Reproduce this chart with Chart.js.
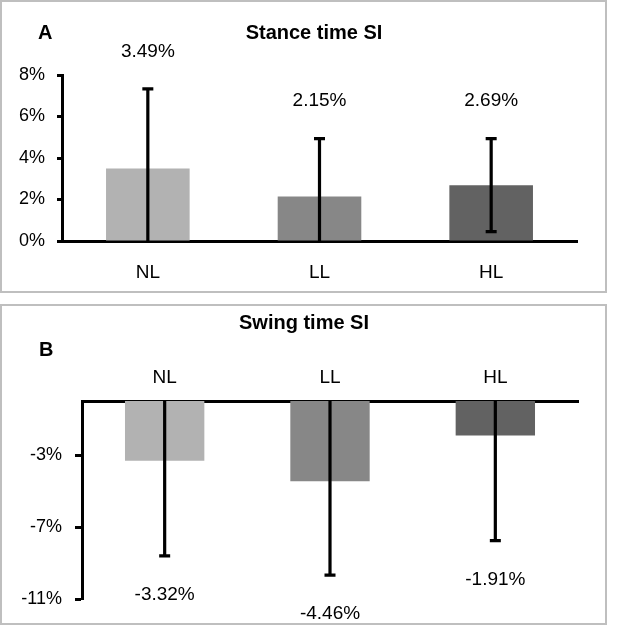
<!DOCTYPE html>
<html><head><meta charset="utf-8">
<script src="https://cdn.jsdelivr.net/npm/chart.js@4.4.1/dist/chart.umd.min.js"></script>
<style>
html,body{margin:0;padding:0;background:#fff;}
.panel{position:absolute;left:0;box-sizing:border-box;width:607px;border:2px solid #bfbfbf;background:#fff;}
#pa{top:0;height:293px;}
#pb{top:304px;height:321px;}
.wrap{position:absolute;left:0;top:0;width:603px;}
.lbl{position:absolute;font-family:"Liberation Sans",Arial,sans-serif;font-weight:bold;color:#000;white-space:nowrap;line-height:1;font-size:20px;}
</style></head>
<body>
<div class="panel" id="pa">
  <div class="wrap" style="height:289px"><canvas id="ca"></canvas></div>
  <div class="lbl" style="left:36px;top:20px;">A</div>
  <div class="lbl" style="left:0;width:624px;text-align:center;top:20px;">Stance time SI</div>
</div>
<div class="panel" id="pb">
  <div class="wrap" style="height:317px"><canvas id="cb"></canvas></div>
  <div class="lbl" style="left:37px;top:33px;">B</div>
  <div class="lbl" style="left:0;width:604px;text-align:center;top:6px;">Swing time SI</div>
</div>
<script>
const categories = ['NL', 'LL', 'HL'];
const stanceMean = [3.49, 2.15, 2.69];
const stanceSD = [3.84, 2.78, 2.24];
const swingMean = [-3.32, -4.46, -1.91];
const swingSD = [5.28, 5.21, 5.85];
const stanceTicks = [0, 2, 4, 6, 8];
const swingTicks = [-11, -7, -3];
const barColors = ['#b2b2b2', '#878787', '#626262'];

const FONT = '"Liberation Sans", Arial, sans-serif';
Chart.defaults.font.family = FONT;
Chart.defaults.color = '#000';

const errorBarPlugin = {
  id: 'errbars',
  afterDatasetsDraw(chart, args, opts) {
    const {ctx, chartArea: a, scales: {y}} = chart;
    const meta = chart.getDatasetMeta(0);
    ctx.save();
    ctx.beginPath();
    ctx.rect(a.left, a.top, a.right - a.left, a.bottom - a.top);
    ctx.clip();
    ctx.strokeStyle = '#000';
    ctx.lineWidth = 3.2;
    ctx.lineCap = 'butt';
    opts.means.forEach((m, i) => {
      const cx = meta.data[i].x;
      const yHi = y.getPixelForValue(m + opts.sd[i]);
      const yLo = y.getPixelForValue(m - opts.sd[i]);
      ctx.beginPath();
      ctx.moveTo(cx, yHi); ctx.lineTo(cx, yLo);
      ctx.moveTo(cx - 5.5, yHi); ctx.lineTo(cx + 5.5, yHi);
      ctx.moveTo(cx - 5.5, yLo); ctx.lineTo(cx + 5.5, yLo);
      ctx.stroke();
    });
    ctx.restore();
    ctx.save();
    ctx.fillStyle = '#000';
    ctx.font = '19px ' + FONT;
    ctx.textAlign = 'center';
    ctx.textBaseline = 'middle';
    opts.means.forEach((m, i) => {
      const cx = meta.data[i].x;
      let yy;
      if (opts.side === 'above') yy = y.getPixelForValue(m + opts.sd[i]) - opts.offset;
      else yy = y.getPixelForValue(m - opts.sd[i]) + opts.offset;
      ctx.fillText(m.toFixed(2) + '%', cx, yy);
    });
    ctx.restore();
  }
};

new Chart(document.getElementById('ca'), {
  type: 'bar',
  data: {labels: categories, datasets: [{data: stanceMean, backgroundColor: barColors, barPercentage: 0.487, categoryPercentage: 1}]},
  options: {
    responsive: true, maintainAspectRatio: false, animation: false,
    layout: {padding: {top: 73, right: 28, left: 0, bottom: 0}},
    plugins: {legend: {display: false}, tooltip: {enabled: false},
      errbars: {means: stanceMean, sd: stanceSD, side: 'above', offset: 37.5}},
    scales: {
      x: {grid: {display: false, drawTicks: false}, border: {display: true, color: '#000', width: 3},
          ticks: {color: '#000', font: {size: 19}, padding: 20}, afterFit(s) { s.height = 50; }},
      y: {min: 0, max: 8,
          afterBuildTicks(s) { s.ticks = stanceTicks.map(v => ({value: v})); },
          grid: {drawOnChartArea: false, drawTicks: true, tickLength: 5, tickWidth: 3, tickColor: '#000'},
          border: {display: true, color: '#000', width: 3},
          ticks: {color: '#000', font: {size: 18}, padding: 12, callback: v => v + '%'},
          afterFit(s) { s.width = 60; }}
    }
  },
  plugins: [errorBarPlugin]
});

new Chart(document.getElementById('cb'), {
  type: 'bar',
  data: {labels: categories, datasets: [{data: swingMean, backgroundColor: barColors, barPercentage: 0.48, categoryPercentage: 1}]},
  options: {
    responsive: true, maintainAspectRatio: false, animation: false,
    layout: {padding: {top: 0, right: 27, left: 0, bottom: 24}},
    plugins: {legend: {display: false}, tooltip: {enabled: false},
      errbars: {means: swingMean, sd: swingSD, side: 'below', offset: 39}},
    scales: {
      x: {position: 'top', grid: {display: false, drawTicks: false}, border: {display: true, color: '#000', width: 3},
          ticks: {color: '#000', font: {size: 19}, padding: 12}, afterFit(s) { s.height = 95; }},
      y: {min: -11, max: 0,
          afterBuildTicks(s) { s.ticks = swingTicks.map(v => ({value: v})); },
          grid: {drawOnChartArea: false, drawTicks: true, tickLength: 7, tickWidth: 3, tickColor: '#000'},
          border: {display: true, color: '#000', width: 3},
          ticks: {color: '#000', font: {size: 18}, padding: 13, callback: v => v + '%'},
          afterFit(s) { s.width = 80; }}
    }
  },
  plugins: [errorBarPlugin]
});
</script>
</body></html>
